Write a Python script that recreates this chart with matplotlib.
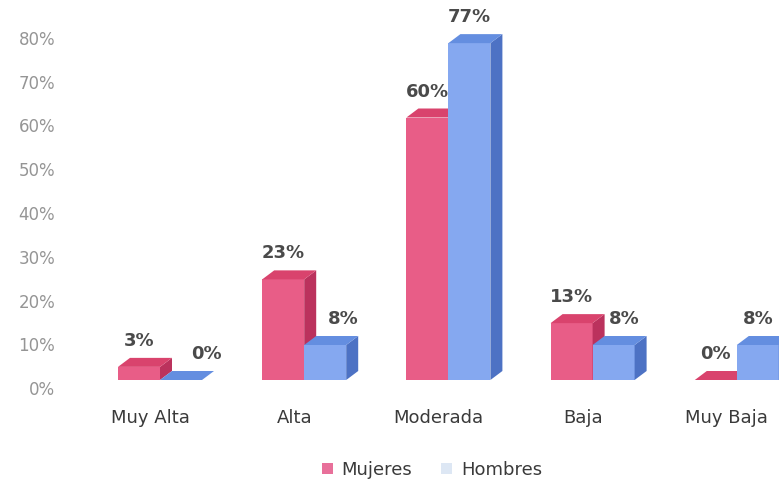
import matplotlib
matplotlib.use("Agg")
import matplotlib.pyplot as plt
from matplotlib.patches import Rectangle, Polygon, Patch

categories = ["Muy Alta", "Alta", "Moderada", "Baja", "Muy Baja"]
mujeres = [3, 23, 60, 13, 0]
hombres = [0, 8, 77, 8, 8]
yticks = [0, 10, 20, 30, 40, 50, 60, 70, 80]

W, H = 779, 483
fig = plt.figure(figsize=(W / 100, H / 100), dpi=100)
fig.patch.set_facecolor("white")
FONT = "DejaVu Sans"

ax = fig.add_axes([65 / W, 0, 1 - 65 / W, 1])
px_per_unit = 144.2
px_per_pct = 4.375
base_px = 380
x0_px = 160
ax.set_xlim((65 - x0_px) / px_per_unit, (W - x0_px) / px_per_unit)
ax.set_ylim(-(H - base_px) / px_per_pct, base_px / px_per_pct)
for s in ax.spines.values():
    s.set_visible(False)
ax.set_xticks([])
tick_off = -8 / px_per_pct
ax.set_yticks([t + tick_off for t in yticks])
ax.set_yticklabels([f"{t}%" for t in yticks], fontsize=12, color="#959595",
                   fontfamily=FONT)
ax.tick_params(axis="y", length=0, pad=7)

bw = 42 / px_per_unit
dx = 12 / px_per_unit
dy = 9 / px_per_pct

pink = dict(front="#e85d87", top="#d9436d", side="#bb325d")
blue = dict(front="#85a8f0", top="#648ee0", side="#4d72c4")


def bar3d(x, v, c):
    ax.add_patch(Rectangle((x, 0), bw, v, facecolor=c["front"], edgecolor="none"))
    ax.add_patch(Polygon([(x + bw, 0), (x + bw + dx, dy), (x + bw + dx, v + dy), (x + bw, v)],
                         closed=True, facecolor=c["side"], edgecolor="none"))
    ax.add_patch(Polygon([(x, v), (x + dx, v + dy), (x + bw + dx, v + dy), (x + bw, v)],
                         closed=True, facecolor=c["top"], edgecolor="none"))


blue_label_shift = [25, 18, 0, 11, 0]  # px
lab_gap = 17 / px_per_pct
for i, (m, h) in enumerate(zip(mujeres, hombres)):
    bar3d(i - bw, m, pink)
    bar3d(i, h, blue)
    ax.text(i - bw / 2, m + dy + lab_gap, f"{m}%", ha="center", va="center",
            fontsize=13, fontweight="bold", color="#4a4a4a", fontfamily=FONT)
    ax.text(i + bw / 2 + blue_label_shift[i] / px_per_unit, h + dy + lab_gap, f"{h}%",
            ha="center", va="center", fontsize=13, fontweight="bold", color="#4a4a4a",
            fontfamily=FONT)
    ax.text(i - 10 / px_per_unit, -38 / px_per_pct, categories[i], ha="center", va="center",
            fontsize=13, color="#3a3a3a", fontfamily=FONT)

handles = [Patch(facecolor="#e8709a", edgecolor="none", label="Mujeres"),
           Patch(facecolor="#dde7f4", edgecolor="none", label="Hombres")]
fig.legend(handles=handles, loc="center", bbox_to_anchor=(432 / W, 1 - 470 / H), ncol=2,
           frameon=False, handlelength=0.6, handleheight=0.6, handletextpad=0.5,
           columnspacing=1.6, prop={"family": FONT, "size": 13},
           labelcolor="#3a3a3a")

fig.savefig("out.png", dpi=100, facecolor="white")
